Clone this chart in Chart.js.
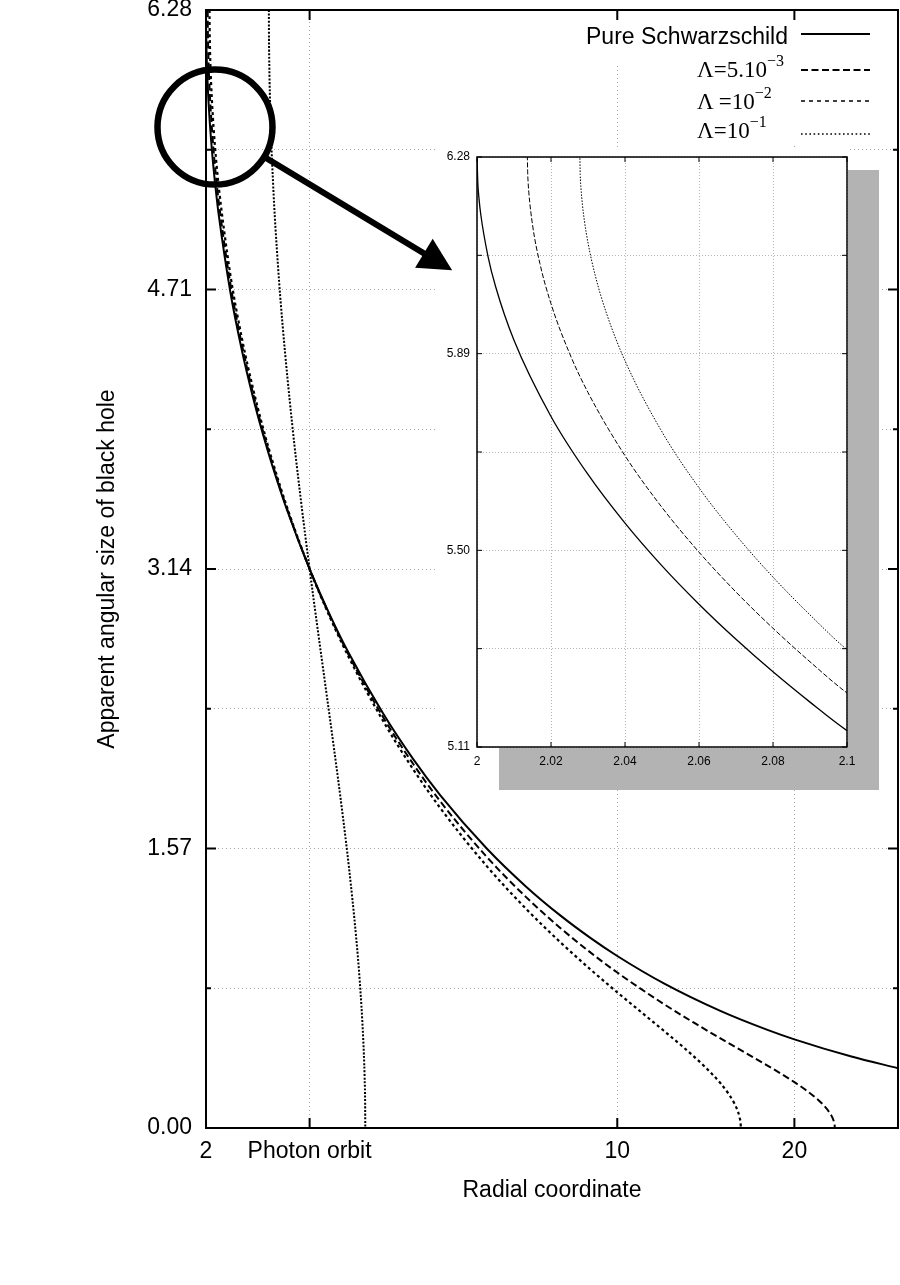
<!DOCTYPE html>
<html>
<head>
<meta charset="utf-8">
<title>Apparent angular size of black hole</title>
<script src="https://cdn.jsdelivr.net/npm/chart.js@4.4.1/dist/chart.umd.min.js"></script>
<style>
html,body{margin:0;padding:0;background:#fff;}
#wrap{position:relative;width:900px;height:1285px;overflow:hidden;background:#fff;}
canvas{display:block;}
#main{position:absolute;left:0;top:0;}
#overlay{position:absolute;left:0;top:0;pointer-events:none;}
#shadow{position:absolute;left:499px;top:170px;width:380px;height:620px;background:#b3b3b3;}
#inset{position:absolute;left:437px;top:148px;}
.keybg{position:absolute;background:#fff;}
.kt{position:absolute;white-space:nowrap;color:#000;line-height:23px;}
.sans{font-family:'Liberation Sans',Arial,Helvetica,sans-serif;font-size:23px;}
.serif{font-family:'Liberation Serif','Times New Roman',Times,serif;font-size:23px;}
.sup{font-size:16px;position:relative;top:-11px;}
#keylines{position:absolute;left:795px;top:20px;}
</style>
</head>
<body>
<div id="wrap">
<canvas id="main" width="900" height="1285"></canvas>
<div class="keybg" style="left:572px;top:21px;width:308px;height:45px;"></div>
<div class="keybg" style="left:690px;top:66px;width:190px;height:80px;"></div>
<div class="kt sans" id="k0" style="right:112px;top:24.5px;"></div>
<div class="kt serif" id="k1" style="left:697px;top:58px;"></div>
<div class="kt serif" id="k2" style="left:697px;top:90px;"></div>
<div class="kt serif" id="k3" style="left:697px;top:119px;"></div>
<svg id="keylines" width="85" height="125" xmlns="http://www.w3.org/2000/svg">
  <line x1="6" y1="14" x2="75" y2="14" stroke="#000" stroke-width="2"/>
  <line x1="6" y1="50" x2="75" y2="50" stroke="#000" stroke-width="2" stroke-dasharray="7,3.5"/>
  <line x1="6" y1="81" x2="75" y2="81" stroke="#000" stroke-width="1.6" stroke-dasharray="4,4"/>
  <line x1="6" y1="114" x2="75" y2="114" stroke="#000" stroke-width="1.6" stroke-dasharray="1.6,2.6"/>
</svg>
<div id="shadow"></div>
<canvas id="inset" width="420" height="625"></canvas>
<canvas id="overlay" width="900" height="1285"></canvas>
</div>
<script>
// ---------------- data ----------------
const seriesNames = ['Pure Schwarzschild', 'Λ=5.10', 'Λ =10', 'Λ=10'];
const seriesExponents = ['', '−3', '−2', '−1'];

const xTickValues = [2, 3, 10, 20];
const xTickLabels = ['2', 'Photon orbit', '10', '20'];
const yTickValues = [0, 0.7854, 1.5708, 2.3562, 3.1416, 3.9270, 4.7124, 5.4978, 6.2832];
const yTickLabels = ['0.00', '', '1.57', '', '3.14', '', '4.71', '', '6.28'];

const insetXTickValues = [2, 2.02, 2.04, 2.06, 2.08, 2.1];
const insetXTickLabels = ['2', '2.02', '2.04', '2.06', '2.08', '2.1'];
const insetYTickValues = [5.11, 5.305, 5.50, 5.695, 5.89, 6.085, 6.28];
const insetYTickLabels = ['5.11', '', '5.50', '', '5.89', '', '6.28'];

// Pure Schwarzschild
const rSchw = [2, 2.0002, 2.0005, 2.001, 2.003, 2.005, 2.01, 2.02, 2.03, 2.04, 2.05, 2.06, 2.07, 2.08, 2.09, 2.1,
  2.2, 2.3, 2.4, 2.5, 2.6, 2.75, 3, 3.25, 3.5, 4, 4.5, 5, 6, 7, 8, 9, 10, 12, 15, 18, 20, 25, 30];
const angSchw = [6.2832, 6.2312, 6.2010, 6.1670, 6.0821, 6.0236, 5.9165, 5.7655, 5.6504, 5.5539, 5.4692, 5.3932, 5.3236, 5.2591, 5.1990, 5.1425,
  4.6981, 4.3745, 4.1150, 3.8970, 3.7089, 3.4674, 3.1416, 2.8812, 2.6664, 2.3295, 2.0731, 1.8713, 1.5708, 1.3563, 1.1948, 1.0685, 0.9667, 0.8127, 0.6567, 0.5513, 0.4981, 0.4014, 0.3362];

// Lambda = 5e-3
const rL5e3 = [2.0136, 2.0137, 2.0138, 2.014, 2.015, 2.017, 2.02, 2.025, 2.03, 2.04, 2.05, 2.06, 2.07, 2.08, 2.09, 2.1,
  2.2, 2.3, 2.4, 2.5, 2.6, 2.75, 3, 3.25, 3.5, 4, 4.5, 5, 6, 7, 8, 9, 10, 12, 13.5, 15, 17, 18, 19, 20, 21, 22, 22.5, 23, 23.2, 23.35, 23.42, 23.426];
const angL5e3 = [6.2832, 6.2478, 6.2321, 6.2102, 6.1457, 6.0688, 5.9890, 5.8908, 5.8130, 5.6876, 5.5851, 5.4964, 5.4173, 5.3454, 5.2790, 5.2172,
  4.7446, 4.4077, 4.1397, 3.9155, 3.7223, 3.4750, 3.1416, 2.8752, 2.6551, 2.3087, 2.0455, 1.8367, 1.5237, 1.2974, 1.1245, 0.9869, 0.8738, 0.6966, 0.5918, 0.5024, 0.3986, 0.3508, 0.3042, 0.2576, 0.2090, 0.1549, 0.1227, 0.0819, 0.0593, 0.0342, 0.0095, 0];

// Lambda = 1e-2
const rL1e2 = [2.0278, 2.0279, 2.0281, 2.0285, 2.029, 2.03, 2.032, 2.035, 2.04, 2.05, 2.06, 2.07, 2.08, 2.09, 2.1,
  2.2, 2.3, 2.4, 2.5, 2.6, 2.75, 3, 3.25, 3.5, 4, 4.5, 5, 6, 7, 8, 9, 10, 11, 12, 13, 14, 15, 15.5, 15.8, 16, 16.15, 16.21, 16.2174];
const angL1e2 = [6.2832, 6.2452, 6.2186, 6.1850, 6.1549, 6.1097, 6.0438, 5.9700, 5.8759, 5.7349, 5.6240, 5.5300, 5.4469, 5.3720, 5.3032,
  4.7957, 4.4438, 4.1664, 3.9352, 3.7370, 3.4832, 3.1416, 2.8687, 2.6430, 2.2871, 2.0155, 1.7991, 1.4717, 1.2315, 1.0444, 0.8918, 0.7625, 0.6492, 0.5464, 0.4494, 0.3531, 0.2487, 0.1864, 0.1402, 0.1002, 0.0554, 0.0183, 0];

// Lambda = 1e-1
const rL1e1 = [2.5578, 2.559, 2.56, 2.57, 2.6, 2.65, 2.7, 2.8, 2.9, 3, 3.1, 3.2, 3.3, 3.4, 3.5, 3.6, 3.65, 3.7, 3.72, 3.728, 3.7304];
const angL1e1 = [6.2832, 6.1196, 6.0615, 5.7615, 5.3138, 4.8516, 4.5066, 3.9656, 3.5259, 3.1416, 2.7903, 2.4582, 2.1343, 1.8077, 1.4627, 1.0684, 0.8273, 0.5018, 0.2922, 0.1403, 0];

// ---------------- helpers / styles ----------------
const FONT = "'Liberation Sans', Arial, Helvetica, sans-serif";
const rSeries = [rSchw, rL5e3, rL1e2, rL1e1];
const aSeries = [angSchw, angL5e3, angL1e2, angL1e1];
const pts = (xs, ys) => xs.map((x, i) => ({x: x, y: ys[i]}));
const mainStyles = [
  {dash: [], width: 2},
  {dash: [7, 3.5], width: 2},
  {dash: [3, 3], width: 2.2},
  {dash: [2, 1.6], width: 2}
];
const insetStyles = [
  {dash: [], width: 1.3},
  {dash: [5, 2], width: 1},
  {dash: [1.5, 1.5], width: 1}
];

// legend text
['k0', 'k1', 'k2', 'k3'].forEach((id, i) => {
  const el = document.getElementById(id);
  el.textContent = seriesNames[i];
  if (seriesExponents[i]) {
    const s = document.createElement('span');
    s.className = 'sup';
    s.textContent = seriesExponents[i];
    el.appendChild(s);
  }
});

function framePlugin(o) {
  return {
    id: 'frame_' + o.name,
    beforeDraw(chart) {
      if (!o.whiteBg) return;
      const a = chart.chartArea, ctx = chart.ctx;
      ctx.save();
      ctx.fillStyle = '#fff';
      ctx.fillRect(0, 0, a.right + 1, a.bottom + 1);
      ctx.fillRect(0, a.bottom, o.whiteBg, 22);
      ctx.restore();
    },
    afterDraw(chart) {
      const a = chart.chartArea, ctx = chart.ctx;
      const xs = chart.scales.x, ys = chart.scales.y;
      ctx.save();
      ctx.strokeStyle = '#000';
      ctx.lineWidth = o.tickWidth;
      ctx.beginPath();
      xs.ticks.forEach((t) => {
        const p = xs.getPixelForValue(t.value);
        ctx.moveTo(p, a.bottom); ctx.lineTo(p, a.bottom - o.major);
        ctx.moveTo(p, a.top); ctx.lineTo(p, a.top + o.major);
      });
      ys.ticks.forEach((t, i) => {
        const p = ys.getPixelForValue(t.value);
        const L = o.yLabels[i] ? o.major : o.minor;
        ctx.moveTo(a.left, p); ctx.lineTo(a.left + L, p);
        ctx.moveTo(a.right, p); ctx.lineTo(a.right - L, p);
      });
      ctx.stroke();
      ctx.lineWidth = o.frameWidth;
      ctx.strokeRect(a.left, a.top, a.right - a.left, a.bottom - a.top);
      ctx.restore();
    }
  };
}

// ---------------- main chart ----------------
const mainChart = new Chart(document.getElementById('main'), {
  type: 'line',
  data: {
    datasets: rSeries.map((r, i) => ({
      label: seriesNames[i] + seriesExponents[i],
      data: pts(r, aSeries[i]),
      borderColor: '#000',
      borderWidth: mainStyles[i].width,
      borderDash: mainStyles[i].dash,
      borderCapStyle: 'butt',
      pointRadius: 0,
      fill: false,
      cubicInterpolationMode: 'monotone',
      clip: 0
    }))
  },
  options: {
    responsive: false,
    animation: false,
    devicePixelRatio: 1,
    events: [],
    layout: {padding: {left: 0, right: 2, top: 10, bottom: 0}},
    plugins: {legend: {display: false}, tooltip: {enabled: false}},
    scales: {
      x: {
        type: 'logarithmic', min: 2, max: 30, position: 'bottom',
        afterBuildTicks: s => { s.ticks = xTickValues.map(v => ({value: v})); },
        afterFit: s => { s.height = 157; },
        ticks: {autoSkip: false, maxRotation: 0, padding: 0, color: '#000',
          font: {family: FONT, size: 23}, callback: (v, i) => xTickLabels[i]},
        grid: {color: '#a8a8a8', lineWidth: 1, drawTicks: true, tickLength: 10, tickColor: 'rgba(0,0,0,0)'},
        border: {display: false, dash: [1, 3]},
        title: {display: true, text: 'Radial coordinate', color: '#000',
          font: {family: FONT, size: 23}, padding: {top: 0, bottom: 81}}
      },
      y: {
        type: 'linear', min: 0, max: 6.2832,
        afterBuildTicks: s => { s.ticks = yTickValues.map(v => ({value: v})); },
        afterFit: s => { s.width = 206; },
        ticks: {autoSkip: false, padding: 0, color: '#000',
          font: {family: FONT, size: 23, lineHeight: 0.8}, callback: (v, i) => yTickLabels[i]},
        grid: {color: '#a8a8a8', lineWidth: 1, drawTicks: true, tickLength: 14, tickColor: 'rgba(0,0,0,0)'},
        border: {display: false, dash: [1, 3]},
        title: {display: true, text: 'Apparent angular size of black hole', color: '#000',
          font: {family: FONT, size: 23}, padding: {top: 94, bottom: 0}}
      }
    }
  },
  plugins: [framePlugin({name: 'main', tickWidth: 2, frameWidth: 2, major: 10, minor: 5, yLabels: yTickLabels})]
});

// ---------------- inset chart ----------------
const insetChart = new Chart(document.getElementById('inset'), {
  type: 'line',
  data: {
    datasets: [0, 1, 2].map(i => ({
      label: seriesNames[i] + seriesExponents[i],
      data: pts(rSeries[i], aSeries[i]),
      borderColor: '#000',
      borderWidth: insetStyles[i].width,
      borderDash: insetStyles[i].dash,
      pointRadius: 0,
      fill: false,
      cubicInterpolationMode: 'monotone',
      clip: 0
    }))
  },
  options: {
    responsive: false,
    animation: false,
    devicePixelRatio: 1,
    events: [],
    layout: {padding: {left: 0, right: 10, top: 9, bottom: 0}},
    plugins: {legend: {display: false}, tooltip: {enabled: false}},
    scales: {
      x: {
        type: 'linear', min: 2, max: 2.1,
        afterBuildTicks: s => { s.ticks = insetXTickValues.map(v => ({value: v})); },
        afterFit: s => { s.height = 26; },
        ticks: {autoSkip: false, maxRotation: 0, padding: 0, color: '#000',
          font: {family: FONT, size: 12}, callback: (v, i) => insetXTickLabels[i]},
        grid: {color: '#b5b5b5', lineWidth: 1, drawTicks: true, tickLength: 7, tickColor: 'rgba(0,0,0,0)'},
        border: {display: false, dash: [1, 2]}
      },
      y: {
        type: 'linear', min: 5.11, max: 6.28,
        afterBuildTicks: s => { s.ticks = insetYTickValues.map(v => ({value: v})); },
        afterFit: s => { s.width = 40; },
        ticks: {autoSkip: false, padding: 0, color: '#000',
          font: {family: FONT, size: 12, lineHeight: 0.8}, callback: (v, i) => insetYTickLabels[i]},
        grid: {color: '#b5b5b5', lineWidth: 1, drawTicks: true, tickLength: 7, tickColor: 'rgba(0,0,0,0)'},
        border: {display: false, dash: [1, 2]}
      }
    }
  },
  plugins: [framePlugin({name: 'inset', tickWidth: 1, frameWidth: 1.5, major: 5, minor: 5, yLabels: insetYTickValues.map(() => 'x'), whiteBg: 62})]
});

// ---------------- zoom circle + arrow (placed through the main chart's scales) ----------------
(function drawAnnotation() {
  const ctx = document.getElementById('overlay').getContext('2d');
  const xs = mainChart.scales.x, ys = mainChart.scales.y;
  const cx = xs.getPixelForValue(2.0716), cy = ys.getPixelForValue(5.625);
  const tx = xs.getPixelForValue(5.24), ty = ys.getPixelForValue(4.82);
  const R = 57.5;
  ctx.strokeStyle = '#000';
  ctx.fillStyle = '#000';
  ctx.lineWidth = 6.5;
  ctx.beginPath();
  ctx.arc(cx, cy, R, 0, Math.PI * 2);
  ctx.stroke();
  const dx = tx - cx, dy = ty - cy, d = Math.hypot(dx, dy);
  const ux = dx / d, uy = dy / d;
  const sx = cx + ux * R, sy = cy + uy * R;
  const headL = 33, headW = 17;
  const bx = tx - ux * headL, by = ty - uy * headL;
  ctx.lineWidth = 6;
  ctx.lineCap = 'butt';
  ctx.beginPath();
  ctx.moveTo(sx, sy);
  ctx.lineTo(bx + ux * 3, by + uy * 3);
  ctx.stroke();
  ctx.beginPath();
  ctx.moveTo(tx, ty);
  ctx.lineTo(bx - uy * headW, by + ux * headW);
  ctx.lineTo(bx + uy * headW, by - ux * headW);
  ctx.closePath();
  ctx.fill();
})();
</script>
</body>
</html>
